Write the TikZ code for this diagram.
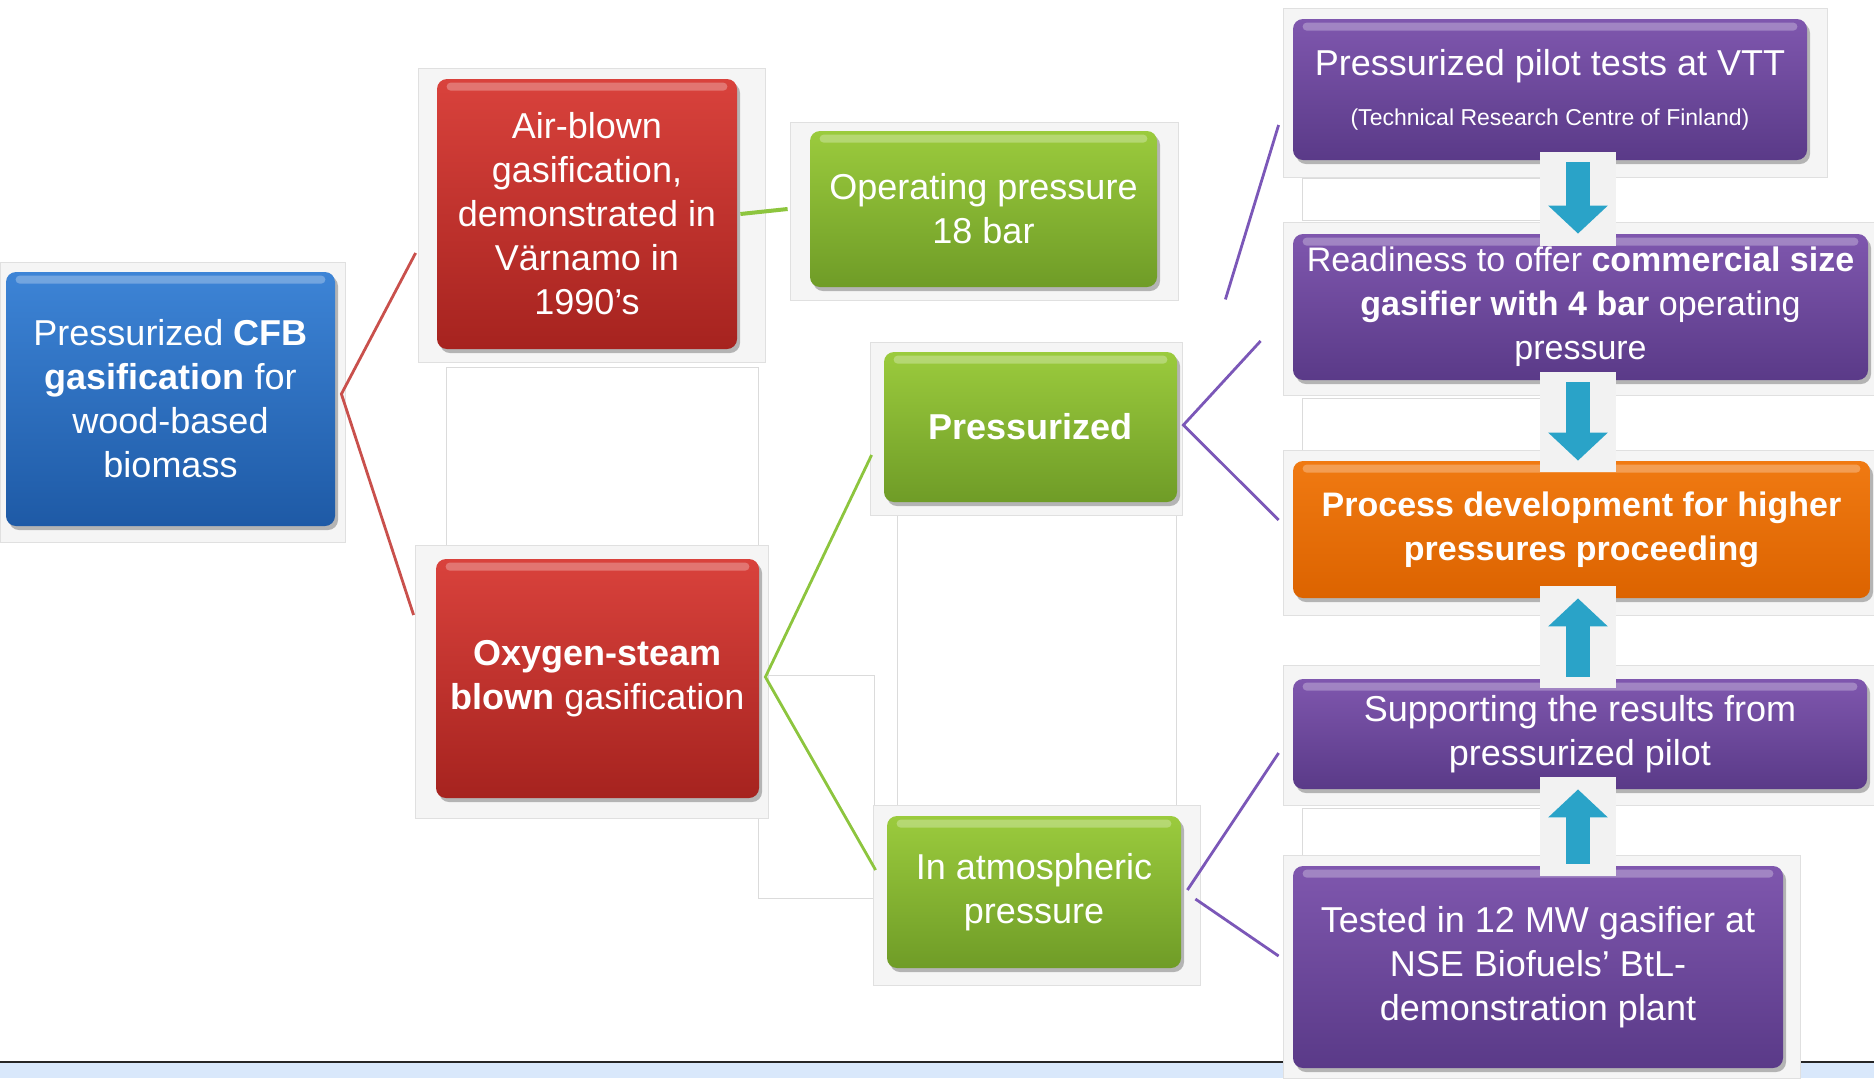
\documentclass[tikz,border=0pt]{standalone}
\usepackage{fontspec}
\setmainfont{Liberation Sans}
\usetikzlibrary{shadows,arrows.meta}
\definecolor{bluetop}{HTML}{3D84D6}
\definecolor{bluebot}{HTML}{1E5AA6}
\definecolor{redtop}{HTML}{D9423C}
\definecolor{redbot}{HTML}{A6231F}
\definecolor{greentop}{HTML}{9BCB3D}
\definecolor{greenbot}{HTML}{6F9C27}
\definecolor{purptop}{HTML}{7F57AE}
\definecolor{purpbot}{HTML}{5A3A88}
\definecolor{orangetop}{HTML}{F07A12}
\definecolor{orangebot}{HTML}{DC6300}
\definecolor{redline}{HTML}{C9504C}
\definecolor{greenline}{HTML}{8DC53E}
\definecolor{purpline}{HTML}{7B57B8}
\definecolor{arrowc}{HTML}{2AA3C8}
\definecolor{bandblue}{HTML}{D9E8FB}
\tikzset{
  box/.style={rounded corners=5pt, text=white, align=center, inner sep=0pt,
    font=\fontsize{18}{22}\selectfont,
    drop shadow={shadow xshift=1.5pt, shadow yshift=-2pt, opacity=0.45, fill=black!60}},
  bluebox/.style={box, top color=bluetop, bottom color=bluebot},
  redbox/.style={box, top color=redtop, bottom color=redbot},
  greenbox/.style={box, top color=greentop, bottom color=greenbot},
  purpbox/.style={box, top color=purptop, bottom color=purpbot},
  orangebox/.style={box, top color=orangetop, bottom color=orangebot},
  frame/.style={fill=black!4, draw=black!12, line width=0.5pt},
  emptyframe/.style={fill=white, draw=black!14, line width=0.5pt},
  conn/.style={line width=1.4pt},
  blockarrow/.style={line width=12pt, draw=arrowc, -{Triangle[width=29pt,length=14pt]}},
  patch/.style={fill=black!5},
}
\begin{document}
\begin{tikzpicture}[x=0.5pt,y=-0.5pt]
\useasboundingbox (0,0) rectangle (1874,1078);
\fill[white] (0,0) rectangle (1874,1078);

% faint frames
\draw[emptyframe] (446,367) rectangle (758,550);
\draw[emptyframe] (897,505) rectangle (1176,807);
\draw[emptyframe] (758,675) rectangle (874,898);
\draw[emptyframe] (1302,178) rectangle (1540,220);
\draw[emptyframe] (1302,398) rectangle (1540,450);
\draw[emptyframe] (1302,808) rectangle (1540,855);
\draw[frame] (0,262) rectangle (345,542);
\draw[frame] (418,68) rectangle (765,362);
\draw[frame] (790,122) rectangle (1178,300);
\draw[frame] (870,342) rectangle (1182,515);
\draw[frame] (415,545) rectangle (768,818);
\draw[frame] (873,805) rectangle (1200,985);
\draw[frame] (1283,8) rectangle (1827,177);
\draw[frame] (1283,222) rectangle (1874,395);
\draw[frame] (1283,450) rectangle (1874,615);
\draw[frame] (1283,665) rectangle (1874,805);

% bottom band
\fill[bandblue] (0,1062) rectangle (1874,1078);
\draw[line width=1.3pt, black!85] (0,1062) -- (1874,1062);
\draw[frame] (1283,855) rectangle (1800,1078);

% boxes
\node[bluebox, minimum width=164.5pt, minimum height=127pt] (blue) at (170.5,399)
  {Pressurized \textbf{CFB}\\\textbf{gasification} for\\wood-based\\biomass};
\node[redbox, minimum width=150pt, minimum height=135pt] (air) at (587,214)
  {Air-blown\\gasification,\\demonstrated in\\Värnamo in\\1990’s};
\node[greenbox, minimum width=173.5pt, minimum height=78pt] (op) at (983.5,209)
  {Operating pressure\\18 bar};
\node[greenbox, minimum width=146.5pt, minimum height=75pt] (press) at (1030.5,427)
  {\textbf{Pressurized}};
\node[redbox, minimum width=161.5pt, minimum height=119.5pt] (oxy) at (597.5,678.5)
  {\textbf{Oxygen-steam}\\\textbf{blown} gasification};
\node[greenbox, minimum width=147pt, minimum height=76pt] (atm) at (1034,892)
  {In atmospheric\\pressure};
\node[purpbox, minimum width=257pt, minimum height=70.5pt] (vtt) at (1550,89.5)
  {Pressurized pilot tests at VTT\\[3pt]{\fontsize{11.5}{14}\selectfont (Technical Research Centre of Finland)}};
\node[purpbox, minimum width=287.5pt, minimum height=73pt, font=\fontsize{17}{22}\selectfont] (ready) at (1580.5,307)
  {Readiness to offer \textbf{commercial size}\\\textbf{gasifier with 4 bar} operating\\pressure};
\node[orangebox, minimum width=288.5pt, minimum height=68.5pt, font=\fontsize{17}{22}\selectfont\bfseries] (orange) at (1581.5,529.5)
  {Process development for higher\\pressures proceeding};
\node[purpbox, minimum width=287pt, minimum height=55pt] (supp) at (1580,734)
  {Supporting the results from\\pressurized pilot};
\node[purpbox, minimum width=245pt, minimum height=101pt] (tested) at (1538,967)
  {Tested in 12 MW gasifier at\\NSE Biofuels’ BtL-\\demonstration plant};

% top highlight strips
\foreach \n in {blue,air,op,press,oxy,atm,vtt,ready,orange,supp,tested}
  \fill[white,opacity=0.28,rounded corners=2pt]
    ([xshift=5pt,yshift=-2pt]\n.north west) rectangle ([xshift=-5pt,yshift=-6pt]\n.north east);

% connectors
\draw[conn, redline] ([xshift=-10.5pt,yshift=-19.5pt]air.west) -- ([xshift=3pt,yshift=2.5pt]blue.east)
  -- ([xshift=-11pt,yshift=31.75pt]oxy.west);
\draw[conn, greenline, line width=2pt] ([xshift=1.5pt]air.east) -- ([xshift=-11pt]op.west);
\draw[conn, greenline] ([xshift=-6pt,yshift=-14pt]press.west) -- ([xshift=3pt,yshift=0.75pt]oxy.east)
  -- ([xshift=-5.5pt,yshift=11pt]atm.west);
\draw[conn, purpline] ([xshift=-16pt,yshift=-17pt]ready.west) -- ([xshift=3pt,yshift=1pt]press.east)
  -- ([xshift=-7pt,yshift=4.75pt]orange.west);
\coordinate (vttfoot) at ([xshift=34pt,yshift=-6pt]op.south east);
\draw[conn, purpline] (vttfoot) -- ([xshift=-7pt,yshift=-17.75pt]vtt.west);
\draw[conn, purpline] ([xshift=3pt,yshift=1pt]atm.east) -- ([xshift=-7pt,yshift=-9.5pt]supp.west);
\draw[conn, purpline] ([xshift=7pt,yshift=-3.5pt]atm.east) -- ([xshift=-7pt,yshift=5.5pt]tested.west);

% arrow patches and block arrows
\coordinate (ax) at (1578,0);
\fill[patch] (1540,152) rectangle (1616,246);
\fill[patch] (1540,372) rectangle (1616,472);
\fill[patch] (1540,586) rectangle (1616,688);
\fill[patch] (1540,777) rectangle (1616,876);
\draw[blockarrow] ([yshift=-1pt]vtt.south -| ax) -- (ready.north -| ax);
\draw[blockarrow] ([yshift=-1pt]ready.south -| ax) -- (orange.north -| ax);
\draw[blockarrow] ([yshift=1pt]supp.north -| ax) -- (orange.south -| ax);
\draw[blockarrow] ([yshift=1pt]tested.north -| ax) -- (supp.south -| ax);
\end{tikzpicture}
\end{document}
